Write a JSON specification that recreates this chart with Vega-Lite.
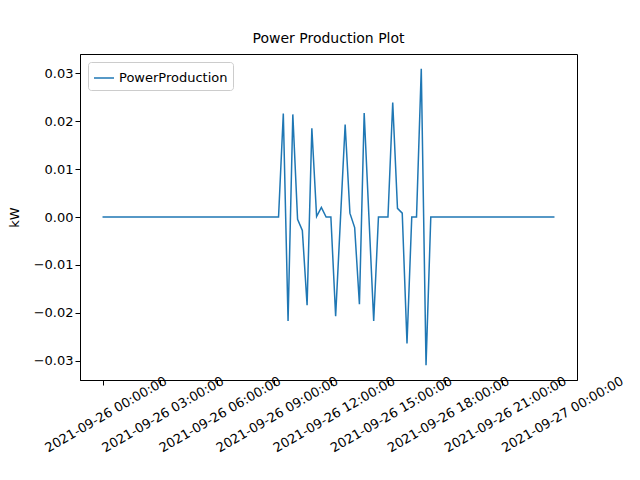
{
  "$schema": "https://vega.github.io/schema/vega-lite/v6.json",
  "width": 497,
  "height": 326,
  "padding": {"left": 8, "top": 32, "right": 10, "bottom": 5},
  "title": {"text": "Power Production Plot", "fontSize": 14, "fontWeight": "normal", "font": "DejaVu Sans", "offset": 8, "color": "black"},
  "data": {"values": [
    {"t":"2021-09-26T00:00:00","kW":0},{"t":"2021-09-26T00:15:00","kW":0},{"t":"2021-09-26T00:30:00","kW":0},{"t":"2021-09-26T00:45:00","kW":0},
    {"t":"2021-09-26T01:00:00","kW":0},{"t":"2021-09-26T01:15:00","kW":0},{"t":"2021-09-26T01:30:00","kW":0},{"t":"2021-09-26T01:45:00","kW":0},
    {"t":"2021-09-26T02:00:00","kW":0},{"t":"2021-09-26T02:15:00","kW":0},{"t":"2021-09-26T02:30:00","kW":0},{"t":"2021-09-26T02:45:00","kW":0},
    {"t":"2021-09-26T03:00:00","kW":0},{"t":"2021-09-26T03:15:00","kW":0},{"t":"2021-09-26T03:30:00","kW":0},{"t":"2021-09-26T03:45:00","kW":0},
    {"t":"2021-09-26T04:00:00","kW":0},{"t":"2021-09-26T04:15:00","kW":0},{"t":"2021-09-26T04:30:00","kW":0},{"t":"2021-09-26T04:45:00","kW":0},
    {"t":"2021-09-26T05:00:00","kW":0},{"t":"2021-09-26T05:15:00","kW":0},{"t":"2021-09-26T05:30:00","kW":0},{"t":"2021-09-26T05:45:00","kW":0},
    {"t":"2021-09-26T06:00:00","kW":0},{"t":"2021-09-26T06:15:00","kW":0},{"t":"2021-09-26T06:30:00","kW":0},{"t":"2021-09-26T06:45:00","kW":0},
    {"t":"2021-09-26T07:00:00","kW":0},{"t":"2021-09-26T07:15:00","kW":0},{"t":"2021-09-26T07:30:00","kW":0},{"t":"2021-09-26T07:45:00","kW":0},
    {"t":"2021-09-26T08:00:00","kW":0},{"t":"2021-09-26T08:15:00","kW":0},{"t":"2021-09-26T08:30:00","kW":0},{"t":"2021-09-26T08:45:00","kW":0},
    {"t":"2021-09-26T09:00:00","kW":0},{"t":"2021-09-26T09:15:00","kW":0},{"t":"2021-09-26T09:30:00","kW":0.0216},{"t":"2021-09-26T09:45:00","kW":-0.0217},
    {"t":"2021-09-26T10:00:00","kW":0.0214},{"t":"2021-09-26T10:15:00","kW":-0.0005},{"t":"2021-09-26T10:30:00","kW":-0.0028},{"t":"2021-09-26T10:45:00","kW":-0.0184},
    {"t":"2021-09-26T11:00:00","kW":0.0185},{"t":"2021-09-26T11:15:00","kW":0.0001},{"t":"2021-09-26T11:30:00","kW":0.002},{"t":"2021-09-26T11:45:00","kW":0},
    {"t":"2021-09-26T12:00:00","kW":0},{"t":"2021-09-26T12:15:00","kW":-0.0207},{"t":"2021-09-26T12:30:00","kW":-0.0007},{"t":"2021-09-26T12:45:00","kW":0.0193},
    {"t":"2021-09-26T13:00:00","kW":0.0008},{"t":"2021-09-26T13:15:00","kW":-0.0022},{"t":"2021-09-26T13:30:00","kW":-0.0182},{"t":"2021-09-26T13:45:00","kW":0.0217},
    {"t":"2021-09-26T14:00:00","kW":0},{"t":"2021-09-26T14:15:00","kW":-0.0217},{"t":"2021-09-26T14:30:00","kW":0},{"t":"2021-09-26T14:45:00","kW":0},
    {"t":"2021-09-26T15:00:00","kW":0},{"t":"2021-09-26T15:15:00","kW":0.0239},{"t":"2021-09-26T15:30:00","kW":0.0018},{"t":"2021-09-26T15:45:00","kW":0.0008},
    {"t":"2021-09-26T16:00:00","kW":-0.0264},{"t":"2021-09-26T16:15:00","kW":0},{"t":"2021-09-26T16:30:00","kW":0},{"t":"2021-09-26T16:45:00","kW":0.0309},
    {"t":"2021-09-26T17:00:00","kW":-0.0309},{"t":"2021-09-26T17:15:00","kW":0},{"t":"2021-09-26T17:30:00","kW":0},{"t":"2021-09-26T17:45:00","kW":0},
    {"t":"2021-09-26T18:00:00","kW":0},{"t":"2021-09-26T18:15:00","kW":0},{"t":"2021-09-26T18:30:00","kW":0},{"t":"2021-09-26T18:45:00","kW":0},
    {"t":"2021-09-26T19:00:00","kW":0},{"t":"2021-09-26T19:15:00","kW":0},{"t":"2021-09-26T19:30:00","kW":0},{"t":"2021-09-26T19:45:00","kW":0},
    {"t":"2021-09-26T20:00:00","kW":0},{"t":"2021-09-26T20:15:00","kW":0},{"t":"2021-09-26T20:30:00","kW":0},{"t":"2021-09-26T20:45:00","kW":0},
    {"t":"2021-09-26T21:00:00","kW":0},{"t":"2021-09-26T21:15:00","kW":0},{"t":"2021-09-26T21:30:00","kW":0},{"t":"2021-09-26T21:45:00","kW":0},
    {"t":"2021-09-26T22:00:00","kW":0},{"t":"2021-09-26T22:15:00","kW":0},{"t":"2021-09-26T22:30:00","kW":0},{"t":"2021-09-26T22:45:00","kW":0},
    {"t":"2021-09-26T23:00:00","kW":0},{"t":"2021-09-26T23:15:00","kW":0},{"t":"2021-09-26T23:30:00","kW":0},{"t":"2021-09-26T23:45:00","kW":0}
  ]},
  "transform": [{"calculate": "'PowerProduction'", "as": "series"}],
  "mark": {"type": "line", "strokeWidth": 1.5, "interpolate": "linear"},
  "encoding": {
    "x": {
      "field": "t", "type": "temporal", "title": null,
      "scale": {"domain": [
        {"year": 2021, "month": 9, "date": 25, "hours": 22, "minutes": 49},
        {"year": 2021, "month": 9, "date": 27, "hours": 0, "minutes": 56}
      ]},
      "axis": {
        "values": [
          {"year": 2021, "month": 9, "date": 26, "hours": 0},
          {"year": 2021, "month": 9, "date": 26, "hours": 3},
          {"year": 2021, "month": 9, "date": 26, "hours": 6},
          {"year": 2021, "month": 9, "date": 26, "hours": 9},
          {"year": 2021, "month": 9, "date": 26, "hours": 12},
          {"year": 2021, "month": 9, "date": 26, "hours": 15},
          {"year": 2021, "month": 9, "date": 26, "hours": 18},
          {"year": 2021, "month": 9, "date": 26, "hours": 21},
          {"year": 2021, "month": 9, "date": 27, "hours": 0}
        ],
        "format": "%Y-%m-%d %H:%M:%S",
        "labelAngle": -30, "labelAlign": "center", "labelBaseline": "top",
        "labelPadding": 24, "labelBound": false, "labelOverlap": false, "labelFlush": false
      }
    },
    "y": {
      "field": "kW", "type": "quantitative", "title": "kW",
      "scale": {"domain": [-0.034, 0.034], "nice": false, "zero": false},
      "axis": {"values": [-0.03, -0.02, -0.01, 0, 0.01, 0.02, 0.03], "format": ".2f", "titlePadding": 12}
    },
    "color": {
      "field": "series", "type": "nominal", "title": null,
      "scale": {"range": ["#1f77b4"]},
      "legend": {
        "orient": "none", "legendX": 8, "legendY": 8,
        "symbolType": "stroke", "symbolStrokeWidth": 1.5, "symbolSize": 400,
        "strokeColor": "#cccccc", "fillColor": "white", "padding": 5, "cornerRadius": 3,
        "labelFontSize": 13, "labelFont": "DejaVu Sans", "labelColor": "black"
      }
    }
  },
  "config": {
    "font": "DejaVu Sans",
    "view": {"stroke": "black", "strokeWidth": 1},
    "axis": {
      "grid": false, "domainColor": "black", "tickColor": "black", "tickSize": 5,
      "labelColor": "black", "labelFontSize": 13, "titleFontSize": 13,
      "titleFontWeight": "normal", "titleColor": "black"
    }
  }
}
